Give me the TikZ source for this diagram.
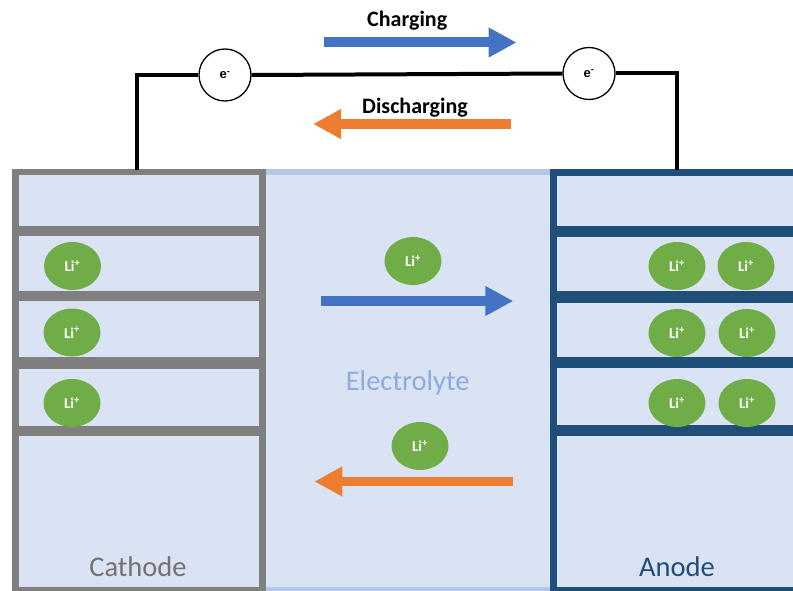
\documentclass[tikz,border=0pt]{standalone}
\usepackage{fontspec}
\setmainfont{Carlito}
\newfontfamily\arialfont{Liberation Sans}
\usetikzlibrary{arrows.meta,shapes.geometric}
\definecolor{bgblue}{HTML}{DAE3F3}
\definecolor{lightborder}{HTML}{B4C7E7}
\definecolor{framegray}{HTML}{7F7F7F}
\definecolor{darkblue}{HTML}{1F4E79}
\definecolor{ligreen}{HTML}{70AD47}
\definecolor{arrblue}{HTML}{4472C4}
\definecolor{arrorange}{HTML}{ED7D31}
\definecolor{electext}{HTML}{8FAADC}
\definecolor{cathtext}{HTML}{767171}
\begin{document}
\begin{tikzpicture}[x=1pt,y=-1pt,
  liion/.style={ellipse, fill=ligreen, draw=none, minimum width=57pt, minimum height=48pt, inner sep=0pt,
    text=white, font=\fontsize{15}{15}\selectfont\bfseries},
  echarge/.style={circle, draw=black, line width=1.3pt, fill=white, minimum size=52pt, inner sep=0pt,
    font=\arialfont\fontsize{13}{13}\selectfont\bfseries},
  wire/.style={draw=black, line width=4pt},
  bigarrow/.style={line width=#1pt, -{Triangle[length=28pt,width=28pt]}},
  bigarrow/.default=10,
  title/.style={font=\fontsize{22}{22}\selectfont\bfseries, anchor=base},
  label/.style={font=\fontsize{28.5}{30}\selectfont, anchor=base},
  shelfc/.style={fill=framegray},
  shelfa/.style={fill=darkblue}
]
\useasboundingbox (0,0) rectangle (793,591);
\clip (0,0) rectangle (793,591);

% background
\fill[bgblue] (12,169) rectangle (793,591);
% electrolyte top and bottom borders
\fill[lightborder] (262,169) rectangle (554,175.3);
\fill[lightborder] (262,586.7) rectangle (554,591);

% cathode frame
\fill[framegray] (12,168.7) rectangle (266,600);
\fill[bgblue] (19,175.3) rectangle (259,586.7);
\fill[shelfc] (19,226) rectangle (259,236);
\fill[shelfc] (19,291) rectangle (259,300.5);
\fill[shelfc] (19,357) rectangle (259,368.5);
\fill[shelfc] (19,426) rectangle (259,436);

% anode frame
\fill[darkblue] (550,169) rectangle (800,600);
\fill[bgblue] (556.7,175.7) rectangle (800,586.7);
\fill[shelfa] (552.7,225.5) rectangle (800,236.7);
\fill[shelfa] (552.7,290.5) rectangle (800,302.5);
\fill[shelfa] (552.7,356.5) rectangle (800,368);
\fill[shelfa] (552.7,425.3) rectangle (800,436);

% Li ions in cathode
\node[liion] (c1) at (72.5,266) {Li\textsuperscript{+}};
\node[liion] (c2) at (72,332.5) {Li\textsuperscript{+}};
\node[liion] (c3) at (72,403) {Li\textsuperscript{+}};
% Li ions in anode
\node[liion] (a1) at (677,266) {Li\textsuperscript{+}};
\node[liion] (a2) at (746,266) {Li\textsuperscript{+}};
\node[liion] (a3) at (677,333) {Li\textsuperscript{+}};
\node[liion] (a4) at (747,333) {Li\textsuperscript{+}};
\node[liion] (a5) at (677,403) {Li\textsuperscript{+}};
\node[liion] (a6) at (747,403) {Li\textsuperscript{+}};
% Li ions in electrolyte
\node[liion] (m1) at (413,261) {Li\textsuperscript{+}};
\node[liion] (m2) at (420,446) {Li\textsuperscript{+}};

% arrows in electrolyte
\coordinate (ib1) at (321,301);
\coordinate (ie1) at (513.3,301);
\draw[bigarrow=9.5, draw=arrblue, fill=arrblue] (ib1) -- (ie1);
\coordinate (ib2) at (512.7,481.5);
\coordinate (ie2) at (314.3,481.5);
\draw[bigarrow=9.5, draw=arrorange, fill=arrorange] (ib2) -- (ie2);

% labels
\node[label, text=electext] (elec) at (407.7,390.7) {Electrolyte};
\node[label, text=cathtext] (cath) at (138,576) {Cathode};
\node[label, text=darkblue] (anod) at (677,576) {Anode};

% external circuit
\node[echarge] (e1) at (225,75) {e\textsuperscript{-}};
\node[echarge] (e2) at (589,73.5) {e\textsuperscript{-}};
\coordinate (cterm) at (137.4,170);
\coordinate (aterm) at (677,170);
\draw[wire] (cterm) |- (e1.west);
\draw[wire] (e1.east) -- (e2.west);
\draw[wire] (e2.east) -| (aterm);

% charging / discharging
\node[title] (chg) at (407.2,26.7) {Charging};
\coordinate (cb) at (324,42.5);
\coordinate (ce) at (516.6,42.5);
\draw[bigarrow=10, draw=arrblue, fill=arrblue] (cb) -- (ce);
\node[title] (dis) at (415,113.3) {Discharging};
\coordinate (db) at (511,124);
\coordinate (de) at (313,124);
\draw[bigarrow=10, draw=arrorange, fill=arrorange] (db) -- (de);
\end{tikzpicture}
\end{document}
